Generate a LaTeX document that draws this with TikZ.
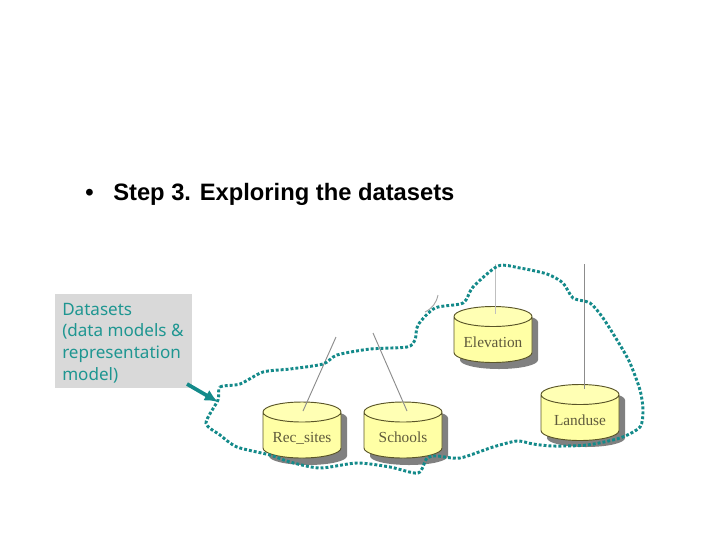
\documentclass[tikz,border=0pt]{standalone}
\usepackage{fontspec}
\setmainfont{Liberation Sans}
\newfontfamily\notefont{Noto Sans}
\newfontfamily\dbfont{Liberation Serif}
\usetikzlibrary{positioning,shapes.geometric,arrows.meta}
\definecolor{loopteal}{RGB}{20,138,138}
\definecolor{noteteal}{RGB}{30,150,145}
\definecolor{notegray}{RGB}{217,217,217}
\definecolor{dbyellow}{RGB}{255,255,165}
\definecolor{dbtop}{RGB}{255,255,180}
\definecolor{dbtext}{RGB}{95,90,60}
\definecolor{dbline}{RGB}{90,85,40}
\newcommand{\dbshadow}[2]{\fill[black!50, shift={(#1,#2)}] (-39,-19) -- (-39,19)
    arc[start angle=180, end angle=360, x radius=29.25pt, y radius=6.75pt] -- (39,-19)
    arc[start angle=0, end angle=180, x radius=29.25pt, y radius=6.75pt] -- cycle;}
\tikzset{
    dbnode/.style={cylinder, shape border rotate=90, aspect=0.3, anchor=shape center,
        minimum width=58.5pt, minimum height=42pt, inner sep=0pt, cylinder uses custom fill,
        draw=dbline, line width=0.7pt, cylinder body fill=dbyellow, cylinder end fill=dbtop,
        text width=50pt, text height=11pt, text depth=0pt, align=center,
        text=dbtext, font=\dbfont\fontsize{11.5}{13}\selectfont},
    leader/.style={draw=black!45, line width=0.7pt},
    noteloop/.style={draw=loopteal, line width=2.2pt, dash pattern=on 2.2pt off 1.5pt}
}
\begin{document}
\begin{tikzpicture}[x=0.75pt, y=-0.75pt]
\useasboundingbox (0,0) rectangle (720,540);

% Title line
\node[inner sep=0pt, anchor=base west, font=\bfseries\fontsize{17.8}{20}\selectfont] (bullet) at (85,200) {•};
\node[inner sep=0pt, anchor=base west, font=\bfseries\fontsize{17.8}{20}\selectfont] (title) at (113,200) {Step 3. Exploring the datasets};

% Gray note
\node[fill=notegray, minimum width=102.75pt, minimum height=70.5pt, inner sep=0pt] (note) at (123.5,341) {};
\node[anchor=west, inner sep=0pt, align=left, text=noteteal, font=\notefont\fontsize{12.8}{16.3}\selectfont] (notetext) at (62,343)
    {Datasets\\(data models \&\\representation\\model)};

% Leader ends above the cylinders
\coordinate (recend) at (336,337);
\coordinate (schend) at (373,333);
\coordinate (eleend) at (495,264);
\coordinate (lanend) at (584,264);

% Cylinder shadows
\dbshadow{308}{437}
\dbshadow{409}{437}
\dbshadow{499}{341}
\dbshadow{586}{419}

% Cylinders
\node[dbnode] (rec) at (302,430) {Rec\_sites};
\node[dbnode] (sch) at (403,430) {Schools};
\node[dbnode] (ele) at (493,334.5) {Elevation};
\node[dbnode] (lan) at (580,412.5) {Landuse};

% Leaders
\coordinate (recfoot) at (303,411);
\coordinate (schfoot) at (407,411);
\coordinate (elefoot) at (495,314);
\coordinate (lanfoot) at (584,389);
\draw[leader] (recend) -- (recfoot);
\draw[leader] (schend) -- (schfoot);
\draw[leader, draw=black!25] (eleend) -- (elefoot);
\draw[leader] (lanend) -- (lanfoot);

% Small leftover curve
\coordinate (stubA) at (438,295);
\coordinate (stubB) at (425,312);
\draw[draw=black!35, line width=0.7pt] (stubA) to[bend left=25] (stubB);

% Dotted loop round the datasets
\draw[noteloop] plot[smooth cycle, tension=0.45] coordinates {
    (218,400) (220,387) (240,384) (263,372) (290,369) (323,364) (337,355) (370,349)
    (407,347) (415,340) (418,325) (435,308) (463,303) (473,287) (498,266) (520,268)
    (547,274) (563,283) (573,298) (590,303) (603,318) (620,345) (630,363) (640,390)
    (643,410) (640,427) (620,438) (587,445) (553,446) (533,444) (517,441) (493,447)
    (460,458) (437,456) (427,458) (418,473) (390,467) (357,463) (320,468) (290,462)
    (270,455) (237,447) (220,435) (206,423)};

% Arrow from the note
\coordinate (arrowstart) at (187,384);
\coordinate (arrowtip) at (218,402);
\draw[-{Latex[length=10pt,width=9pt]}, draw=loopteal, fill=loopteal, line width=2.8pt] (arrowstart) -- (arrowtip);

\end{tikzpicture}
\end{document}
